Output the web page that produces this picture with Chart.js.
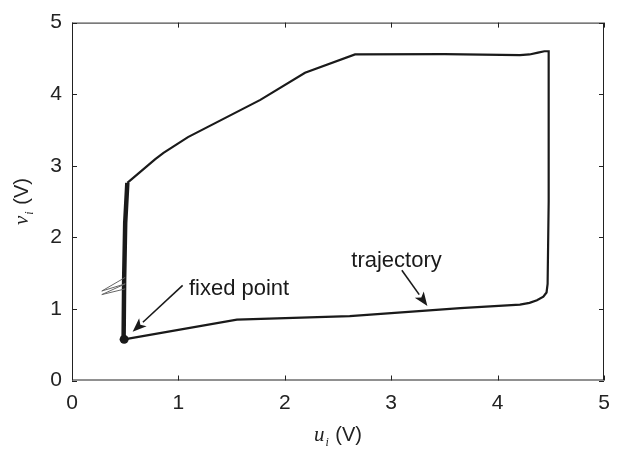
<!DOCTYPE html>
<html>
<head>
<meta charset="utf-8">
<script src="https://cdn.jsdelivr.net/npm/chart.js@4/dist/chart.umd.min.js"></script>
<style>
html,body{margin:0;padding:0;background:#fff;}
#wrap{width:622px;height:450px;}
</style>
</head>
<body>
<div id="wrap"><canvas id="c" width="622" height="450"></canvas></div>
<script>
// ---- data ----
const xTicks = [0, 1, 2, 3, 4, 5];
const yTicks = [0, 1, 2, 3, 4, 5];

// trajectory (u_i, v_i) in volts
const trajU = [0.49, 1.55, 2.61, 3.65, 4.21, 4.30, 4.37, 4.43, 4.46, 4.47, 4.48, 4.48, 4.44, 4.38, 4.30, 4.21, 3.50, 2.66, 2.19, 1.77, 1.09, 0.86, 0.78, 0.52];
const trajV = [0.575, 0.85, 0.90, 1.01, 1.06, 1.085, 1.12, 1.17, 1.23, 1.35, 2.50, 4.60, 4.60, 4.58, 4.555, 4.545, 4.56, 4.555, 4.30, 3.92, 3.40, 3.18, 3.09, 2.76];

// noisy descent toward the fixed point
const descentU = [0.52, 0.50, 0.49, 0.485];
const descentV = [2.76, 2.20, 1.40, 0.58];

// small transient spikes on the left
const spikeU = [0.50, 0.28, 0.50, 0.28, 0.50];
const spikeV = [1.44, 1.25, 1.35, 1.20, 1.28];

// fixed point
const fixedU = [0.49];
const fixedV = [0.575];

// annotations: label, text anchor (u,v), arrow start (u,v), arrow tip (u,v)
const annLabels = ['trajectory', 'fixed point'];
const annTextU = [3.05, 1.57];
const annTextV = [1.67, 1.28];
const annFromU = [3.10, 1.04];
const annFromV = [1.54, 1.33];
const annToU = [3.34, 0.57];
const annToV = [1.04, 0.68];

const xTitleMain = 'u', xTitleSub = 'i', xTitleUnit = ' (V)';
const yTitleMain = 'v', yTitleSub = 'i', yTitleUnit = ' (V)';

// ---- build ----
const toPts = (u, v) => u.map((x, i) => ({x: x, y: v[i]}));
const INK = '#1a1a1a';
const SANS = '"Liberation Sans", Arial, Helvetica, sans-serif';
const SERIF = '"Liberation Serif", "Times New Roman", serif';

const framePlugin = {
  id: 'frame',
  afterDatasetsDraw(chart) {
    const ctx = chart.ctx, a = chart.chartArea;
    const xs = chart.scales.x, ys = chart.scales.y;
    ctx.save();
    // box
    ctx.strokeStyle = '#222';
    ctx.lineWidth = 1;
    ctx.strokeRect(a.left + 0.5, a.top + 0.5, a.right - a.left - 1, a.bottom - a.top - 1);
    // inward ticks on all four sides
    const tl = 5;
    ctx.beginPath();
    xTicks.forEach(t => {
      const px = Math.round(xs.getPixelForValue(t)) + 0.5;
      ctx.moveTo(px, a.bottom); ctx.lineTo(px, a.bottom - tl);
      ctx.moveTo(px, a.top); ctx.lineTo(px, a.top + tl);
    });
    yTicks.forEach(t => {
      const py = Math.round(ys.getPixelForValue(t)) + 0.5;
      ctx.moveTo(a.left, py); ctx.lineTo(a.left + tl, py);
      ctx.moveTo(a.right, py); ctx.lineTo(a.right - tl, py);
    });
    ctx.stroke();

    // annotations
    ctx.fillStyle = INK;
    ctx.strokeStyle = INK;
    ctx.font = '22px ' + SANS;
    ctx.textAlign = 'center';
    ctx.textBaseline = 'middle';
    annLabels.forEach((lab, i) => {
      ctx.fillText(lab, xs.getPixelForValue(annTextU[i]), ys.getPixelForValue(annTextV[i]));
      const x0 = xs.getPixelForValue(annFromU[i]), y0 = ys.getPixelForValue(annFromV[i]);
      const x1 = xs.getPixelForValue(annToU[i]), y1 = ys.getPixelForValue(annToV[i]);
      const ang = Math.atan2(y1 - y0, x1 - x0);
      const hl = 14, hw = 5.5;
      const bx = x1 - hl * Math.cos(ang), by = y1 - hl * Math.sin(ang);
      ctx.lineWidth = 1.6;
      ctx.beginPath(); ctx.moveTo(x0, y0); ctx.lineTo(bx, by); ctx.stroke();
      ctx.beginPath();
      ctx.moveTo(x1, y1);
      ctx.lineTo(bx + hw * Math.sin(ang), by - hw * Math.cos(ang));
      ctx.lineTo(x1 - (hl * 0.75) * Math.cos(ang), y1 - (hl * 0.75) * Math.sin(ang));
      ctx.lineTo(bx - hw * Math.sin(ang), by + hw * Math.cos(ang));
      ctx.closePath(); ctx.fill();
    });

    // axis titles with subscripts
    const drawTitle = (main, sub, unit, cx, cy) => {
      ctx.textAlign = 'left';
      ctx.textBaseline = 'alphabetic';
      const fMain = 'italic 21px ' + SERIF, fSub = 'italic 12px ' + SERIF, fUnit = '20px ' + SANS;
      ctx.font = fMain; const w1 = ctx.measureText(main).width;
      ctx.font = fSub; const w2 = ctx.measureText(sub).width + 2;
      ctx.font = fUnit; const w3 = ctx.measureText(unit).width;
      let x = cx - (w1 + w2 + w3) / 2;
      ctx.font = fMain; ctx.fillText(main, x, cy); x += w1;
      ctx.font = fSub; ctx.fillText(sub, x + 1, cy + 5); x += w2;
      ctx.font = fUnit; ctx.fillText(unit, x, cy);
    };
    ctx.fillStyle = '#222';
    drawTitle(xTitleMain, xTitleSub, xTitleUnit, (a.left + a.right) / 2, 441);
    ctx.save();
    ctx.translate(28, (a.top + a.bottom) / 2);
    ctx.rotate(-Math.PI / 2);
    drawTitle(yTitleMain, yTitleSub, yTitleUnit, 0, 0);
    ctx.restore();
    ctx.restore();
  }
};

new Chart(document.getElementById('c'), {
  type: 'scatter',
  data: {
    datasets: [
      {data: toPts(spikeU, spikeV), showLine: true, borderColor: '#666', borderWidth: 1, pointRadius: 0, tension: 0},
      {data: toPts(trajU, trajV), showLine: true, borderColor: INK, borderWidth: 2.2, pointRadius: 0, tension: 0},
      {data: toPts(descentU, descentV), showLine: true, borderColor: INK, borderWidth: 4.5, pointRadius: 0, tension: 0},
      {data: toPts(fixedU, fixedV), showLine: false, pointRadius: 4.5, backgroundColor: INK, borderColor: INK, pointBorderWidth: 0}
    ]
  },
  options: {
    responsive: false,
    animation: false,
    events: [],
    layout: {padding: {left: 0, right: 18, top: 8, bottom: 0}},
    plugins: {legend: {display: false}, tooltip: {enabled: false}},
    scales: {
      x: {
        type: 'linear', min: 0, max: 5,
        afterBuildTicks: s => { s.ticks = xTicks.map(v => ({value: v})); },
        afterFit: s => { s.height = 69.5; },
        grid: {display: false, drawTicks: false},
        border: {display: false},
        ticks: {color: '#222', padding: 10, font: {family: SANS, size: 21}, maxRotation: 0}
      },
      y: {
        type: 'linear', min: 0, max: 5,
        afterBuildTicks: s => { s.ticks = yTicks.map(v => ({value: v})); },
        afterFit: s => { s.width = 72; },
        grid: {display: false, drawTicks: false},
        border: {display: false},
        ticks: {color: '#222', padding: 10, font: {family: SANS, size: 21}}
      }
    }
  },
  plugins: [framePlugin]
});
</script>
</body>
</html>
